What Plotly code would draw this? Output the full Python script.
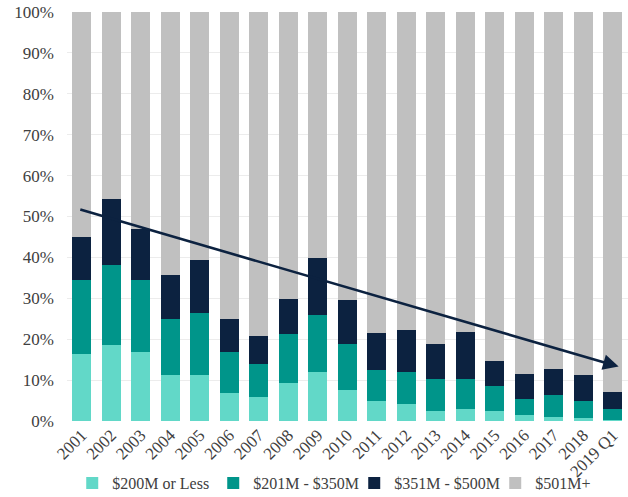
import plotly.graph_objects as go

years = ["2001", "2002", "2003", "2004", "2005", "2006", "2007", "2008", "2009", "2010",
         "2011", "2012", "2013", "2014", "2015", "2016", "2017", "2018", "2019 Q1"]
small = [16.5, 18.7, 16.8, 11.3, 11.3, 6.9, 5.8, 9.2, 12.0, 7.7,
         4.8, 4.2, 2.5, 2.9, 2.5, 1.4, 1.1, 0.7, 0.2]
mid = [18.0, 19.4, 17.7, 13.7, 15.0, 10.0, 8.1, 12.1, 14.0, 11.1,
       7.7, 7.8, 7.7, 7.3, 6.1, 4.1, 5.2, 4.1, 2.7]
upper = [10.4, 16.1, 12.4, 10.8, 13.1, 8.0, 6.9, 8.6, 13.9, 10.9,
         8.9, 10.2, 8.6, 11.6, 6.1, 6.0, 6.3, 6.4, 4.2]
large = [round(100 - a - b - c, 1) for a, b, c in zip(small, mid, upper)]

series_names = ["$200M or Less", "$201M - $350M", "$351M - $500M", "$501M+"]
colors = ["#62d8c8", "#00958a", "#0c2240", "#c0c0c0"]

trend_start = (-0.1, 51.8)
trend_end = (18.2, 13.3)

fig = go.Figure()
for name, vals, col in zip(series_names, [small, mid, upper, large], colors):
    fig.add_trace(go.Bar(x=years, y=vals, name=name, marker=dict(color=col, line=dict(width=0))))

fig.add_annotation(
    x=trend_end[0], y=trend_end[1], ax=trend_start[0], ay=trend_start[1],
    xref="x", yref="y", axref="x", ayref="y",
    showarrow=True, arrowhead=2, arrowsize=1.2, arrowwidth=2.6, arrowcolor="#0c2240", text="",
)

font_family = "Liberation Serif, DejaVu Serif, serif"
fig.update_layout(
    width=628, height=497,
    barmode="stack", bargap=0.36,
    plot_bgcolor="white", paper_bgcolor="white",
    margin=dict(l=67, r=0, t=12, b=76, autoexpand=False),
    font=dict(family=font_family, color="#404040", size=16),
    legend=dict(orientation="h", x=0.512, xanchor="center", y=-0.152, yanchor="middle",
                font=dict(size=16, color="#404040"), traceorder="normal",
                bgcolor="rgba(0,0,0,0)",
                itemwidth=30, entrywidth=96, entrywidthmode="pixels", tracegroupgap=0),
    showlegend=True,
)
fig.update_xaxes(tickangle=-45, tickfont=dict(size=17), showgrid=False, showline=False,
                 ticks="", automargin=False)
fig.update_yaxes(range=[0, 100], dtick=10, ticksuffix="%", tickfont=dict(size=17),
                 showgrid=True, gridcolor="#ececec", gridwidth=1, zeroline=False,
                 showline=False, ticks="", automargin=False, ticklabelstandoff=12)

fig.write_html("out.html")
